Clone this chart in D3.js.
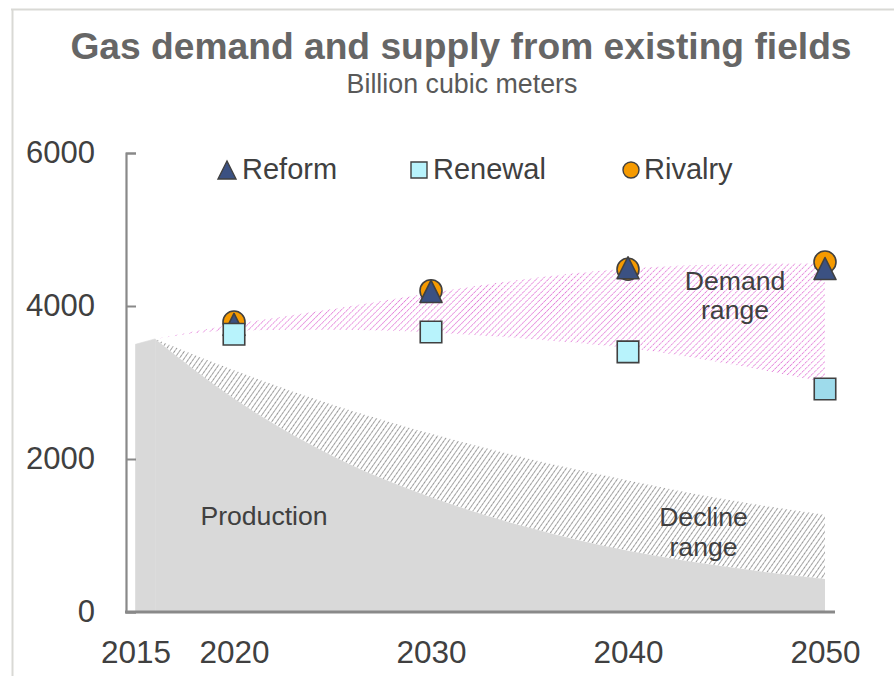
<!DOCTYPE html>
<html>
<head>
<meta charset="utf-8">
<script src="https://cdn.jsdelivr.net/npm/d3@7"></script>
<style>
  html, body { margin: 0; padding: 0; background: #fff; }
  svg { display: block; font-family: "Liberation Sans", Arial, sans-serif; }
</style>
</head>
<body>
<svg id="chart" width="894" height="676"></svg>
<script>
// ---------- data ----------
const supplyYears   = [2015, 2016, 2020, 2025, 2030, 2035, 2040, 2045, 2050];
const production    = [3500, 3570, 2790, 2040, 1500, 1100, 800, 590, 430];
const declineUpper  = [3500, 3570, 3160, 2710, 2330, 2000, 1720, 1470, 1270];

const demandYears   = [2016, 2020, 2025, 2030, 2035, 2040, 2045, 2050];
const demandLow     = [3570, 3680, 3690, 3655, 3570, 3450, 3250, 3000];
const demandHigh    = [3570, 3760, 3960, 4170, 4360, 4490, 4545, 4560];

const scenarioYears = [2020, 2030, 2040, 2050];
const reform        = [3760, 4190, 4500, 4490];
const renewal       = [3630, 3660, 3400, 2915];
const rivalry       = [3790, 4200, 4480, 4575];

const xTickValues   = [2015, 2020, 2030, 2040, 2050];
const yTickValues   = [0, 2000, 4000, 6000];

const titleText     = "Gas demand and supply from existing fields";
const subtitleText  = "Billion cubic meters";

// ---------- setup ----------
const svg = d3.select("#chart");
const x = d3.scaleLinear().domain([2015, 2050]).range([135.5, 825]);
const y = d3.scaleLinear().domain([0, 6000]).range([612, 153]);

const defs = svg.append("defs");
defs.append("pattern")
  .attr("id", "hatchPink").attr("patternUnits", "userSpaceOnUse")
  .attr("width", 4.3).attr("height", 4.3)
  .attr("patternTransform", "rotate(45)")
  .append("line").attr("x1", 0).attr("y1", 0).attr("x2", 0).attr("y2", 4.3)
  .attr("stroke", "#dc5ccf").attr("stroke-width", 1.4)
  .attr("stroke-dasharray", "1.6,0.7");
defs.append("pattern")
  .attr("id", "hatchGray").attr("patternUnits", "userSpaceOnUse")
  .attr("width", 4).attr("height", 4)
  .attr("patternTransform", "rotate(35)")
  .append("line").attr("x1", 0).attr("y1", 0).attr("x2", 0).attr("y2", 4)
  .attr("stroke", "#555555").attr("stroke-width", 1.2)
  .attr("stroke-dasharray", "1.8,0.5");

// border (chart frame)
svg.append("line").attr("x1", 11).attr("x2", 894).attr("y1", 9.5).attr("y2", 9.5)
  .attr("stroke", "#d9d9d5").attr("stroke-width", 2);
svg.append("line").attr("x1", 12.5).attr("x2", 12.5).attr("y1", 9).attr("y2", 676)
  .attr("stroke", "#d9d9d5").attr("stroke-width", 2);

// title
svg.append("text").attr("x", 461).attr("y", 59).attr("text-anchor", "middle")
  .attr("font-size", 37.2).attr("font-weight", "bold").attr("fill", "#666666")
  .text(titleText);
svg.append("text").attr("x", 462).attr("y", 93).attr("text-anchor", "middle")
  .attr("font-size", 26.8).attr("fill", "#595959")
  .text(subtitleText);

// ---------- areas ----------
const supply = supplyYears.map((yr, i) => ({ yr, p: production[i], d: declineUpper[i] }));
const demand = demandYears.map((yr, i) => ({ yr, lo: demandLow[i], hi: demandHigh[i] }));
const supplyStart = supply.slice(0, 2);   // 2015 -> 2016 ramp (straight)
const supplyDecline = supply.slice(1);    // 2016 onward (smooth)

svg.append("path").datum(supplyDecline)
  .attr("fill", "url(#hatchGray)")
  .attr("d", d3.area().curve(d3.curveMonotoneX)
    .x(d => x(d.yr)).y0(d => y(d.p)).y1(d => y(d.d)));

const prodArea = d3.area().x(d => x(d.yr)).y0(y(0)).y1(d => y(d.p));
svg.append("path").datum(supplyStart)
  .attr("fill", "#d9d9d9").attr("stroke", "#d9d9d9").attr("stroke-width", 0.6)
  .attr("d", prodArea.curve(d3.curveLinear));
svg.append("path").datum(supplyDecline)
  .attr("fill", "#d9d9d9")
  .attr("d", prodArea.curve(d3.curveMonotoneX));

svg.append("path").datum(demand)
  .attr("fill", "url(#hatchPink)")
  .attr("d", d3.area().curve(d3.curveMonotoneX)
    .x(d => x(d.yr)).y0(d => y(d.lo)).y1(d => y(d.hi)));

// ---------- axes ----------
const axisColor = "#898989";
const yAxis = svg.append("g").attr("transform", "translate(126,0)")
  .call(d3.axisLeft(y).tickValues(yTickValues).tickSizeInner(-10).tickSizeOuter(-10)
    .tickPadding(31).tickFormat(d3.format("d")));
yAxis.select(".domain").attr("stroke", axisColor).attr("stroke-width", 2.2);
yAxis.selectAll(".tick line").attr("stroke", axisColor).attr("stroke-width", 2);
yAxis.selectAll(".tick text").attr("font-size", 31).attr("fill", "#404040")
  .attr("font-family", "Liberation Sans, Arial, sans-serif");

const xAxis = svg.append("g").attr("transform", "translate(0,612)")
  .call(d3.axisBottom(x).tickValues(xTickValues).tickSize(0).tickPadding(29)
    .tickFormat(d3.format("d")));
xAxis.select(".domain").attr("d", "M125,0H835").attr("stroke", axisColor).attr("stroke-width", 3);
xAxis.selectAll(".tick text").attr("font-size", 31.5).attr("fill", "#404040")
  .attr("font-family", "Liberation Sans, Arial, sans-serif");

// ---------- markers ----------
const mStroke = "#404040";
const triPath = s => `M0,${-s/2}L${s/2},${s/2}L${-s/2},${s/2}Z`;
const sqPath  = s => `M${-s/2},${-s/2}h${s}v${s}h${-s}Z`;

svg.append("g").selectAll("circle").data(scenarioYears).join("circle")
  .attr("cx", d => x(d)).attr("cy", (d, i) => y(rivalry[i])).attr("r", 11)
  .attr("fill", "#f59a00").attr("stroke", mStroke).attr("stroke-width", 1.6);
svg.append("g").selectAll("path").data(scenarioYears).join("path")
  .attr("transform", (d, i) => `translate(${x(d)},${y(reform[i])})`)
  .attr("d", triPath(22))
  .attr("fill", "#3b5182").attr("stroke", mStroke).attr("stroke-width", 1.6)
  .attr("stroke-linejoin", "round");
svg.append("g").selectAll("path").data(scenarioYears).join("path")
  .attr("transform", (d, i) => `translate(${x(d)},${y(renewal[i])})`)
  .attr("d", sqPath(21.5))
  .attr("fill", (d, i) => i === scenarioYears.length - 1 ? "#9edbeb" : "#b8f3fc")
  .attr("stroke", mStroke).attr("stroke-width", 1.6);

// ---------- legend ----------
const lg = svg.append("g");
const lgText = { fs: 29, fill: "#404040" };
lg.append("path").attr("transform", "translate(227,170)").attr("d", triPath(18))
  .attr("fill", "#3b5182").attr("stroke", mStroke).attr("stroke-width", 1.4);
lg.append("text").attr("x", 242).attr("y", 179).attr("font-size", lgText.fs).attr("fill", lgText.fill).text("Reform");
lg.append("path").attr("transform", "translate(419,170)").attr("d", sqPath(16))
  .attr("fill", "#b8f3fc").attr("stroke", mStroke).attr("stroke-width", 1.4);
lg.append("text").attr("x", 433).attr("y", 179).attr("font-size", lgText.fs).attr("fill", lgText.fill).text("Renewal");
lg.append("circle").attr("cx", 631).attr("cy", 170).attr("r", 8)
  .attr("fill", "#f59a00").attr("stroke", mStroke).attr("stroke-width", 1.4);
lg.append("text").attr("x", 644).attr("y", 179).attr("font-size", lgText.fs).attr("fill", lgText.fill).text("Rivalry");

// ---------- area labels ----------
const lab = (tx, ty, t) => svg.append("text").attr("x", tx).attr("y", ty)
  .attr("text-anchor", "middle").attr("font-size", 26.6).attr("fill", "#404040").text(t);
lab(264, 525, "Production");
lab(735, 290, "Demand");
lab(735, 319, "range");
lab(703.5, 526, "Decline");
lab(703.5, 556, "range");
</script>
</body>
</html>
